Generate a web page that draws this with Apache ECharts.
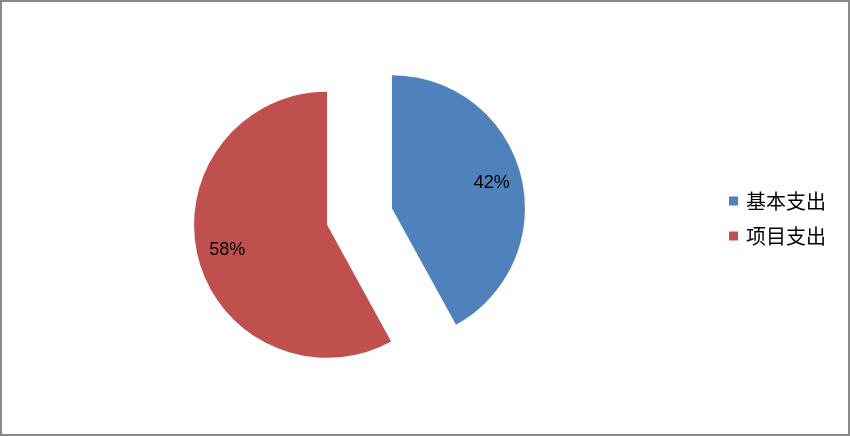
<!DOCTYPE html>
<html><head><meta charset="utf-8">
<script src="https://cdn.jsdelivr.net/npm/echarts@6/dist/echarts.min.js"></script>
<style>
html,body{margin:0;padding:0;background:#fff;}
#c{width:850px;height:436px;box-sizing:border-box;border:2px solid #898989;}
</style></head><body>
<div id="c"></div>
<script>
const categories = ['基本支出', '项目支出'];
const values = [42, 58];
const colors = ['#4F81BD', '#C0504D'];

const chart = echarts.init(document.getElementById('c'));
const data = categories.map((n, i) => ({ name: n, value: values[i], selected: true, itemStyle: { color: colors[i] } }));
const center = [357.5, 214.5];
chart.setOption({
  animation: false,
  legend: {
    orient: 'vertical', left: 727, top: 189, itemWidth: 9, itemHeight: 9, itemGap: 15,
    icon: 'rect', data: categories, padding: 0,
    textStyle: { fontSize: 20, color: '#000', fontFamily: 'Noto Sans CJK SC', padding: [0, 0, 0, 3] }
  },
  series: [{
    type: 'pie', center: center, radius: [0, 133], startAngle: 90, clockwise: true,
    selectedMode: 'multiple', selectedOffset: 33.5,
    label: { show: false }, labelLine: { show: false }, silent: true,
    data: data
  }, {
    type: 'pie', center: center, radius: [67, 133], startAngle: 90, clockwise: true,
    selectedMode: 'multiple', selectedOffset: 33.5, silent: true,
    itemStyle: { color: 'rgba(0,0,0,0)' },
    label: { show: true, position: 'inside', formatter: '{d}%', fontSize: 18, color: '#000', fontFamily: 'Liberation Sans' },
    labelLine: { show: false },
    data: categories.map((n, i) => ({ name: n, value: values[i], selected: true }))
  }]
});
</script></body></html>
